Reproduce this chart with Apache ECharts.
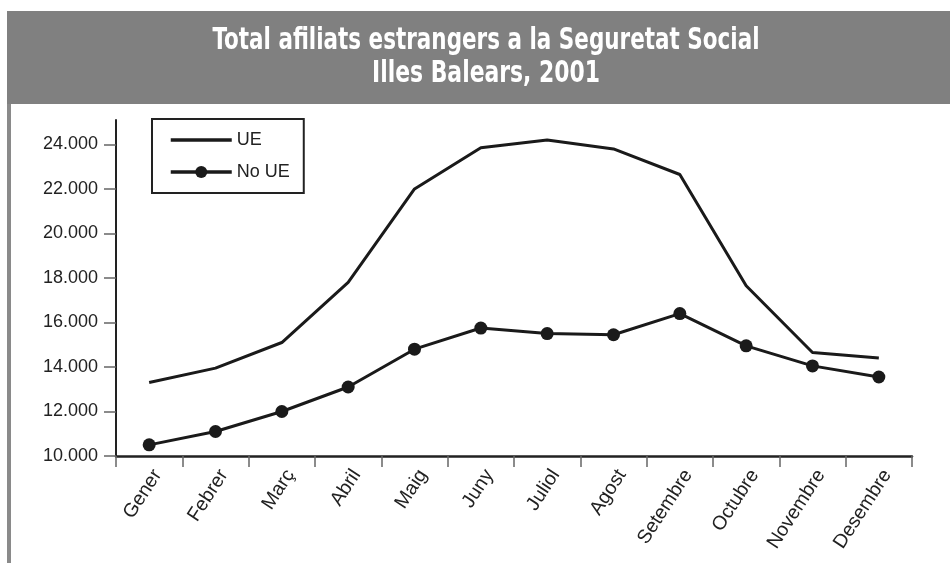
<!DOCTYPE html>
<html>
<head>
<meta charset="utf-8">
<script src="https://cdn.jsdelivr.net/npm/echarts@6/dist/echarts.min.js"></script>
<style>
html,body{margin:0;padding:0;background:#fff;}
#main{width:950px;height:563px;}
</style>
</head>
<body>
<div id="main"></div>
<script>
var titleLines = ['Total afiliats estrangers a la Seguretat Social', 'Illes Balears, 2001'];
var months = ['Gener','Febrer','Març','Abril','Maig','Juny','Juliol','Agost','Setembre','Octubre','Novembre','Desembre'];
var ueValues = [13300, 13950, 15100, 17800, 22000, 23850, 24200, 23800, 22650, 17650, 14650, 14400];
var noUeValues = [10500, 11100, 12000, 13100, 14800, 15750, 15500, 15450, 16400, 14950, 14050, 13550];
var yTicks = [10000, 12000, 14000, 16000, 18000, 20000, 22000, 24000];
var seriesNames = ['UE', 'No UE'];

var titleFont = 'bold 30px "Liberation Sans Narrow", "DejaVu Sans Condensed", "Liberation Sans", sans-serif';
function fitScale(text, font, target) {
  var c = document.createElement('canvas').getContext('2d');
  c.font = font;
  var w = c.measureText(text).width;
  return w > 0 ? target / w : 1;
}
var s1 = fitScale(titleLines[0], titleFont, 547);
var s2 = fitScale(titleLines[1], titleFont, 228);

function fmt(v) {
  return String(v).replace(/\B(?=(\d{3})+(?!\d))/g, '.');
}

var chart = echarts.init(document.getElementById('main'), null, {renderer: 'canvas'});
chart.setOption({
  backgroundColor: '#ffffff',
  animation: false,
  graphic: [
    {type: 'rect', left: 7, top: 11, shape: {width: 943, height: 93}, style: {fill: '#808080'}, silent: true},
    {type: 'rect', left: 7, top: 104, shape: {width: 4, height: 459}, style: {fill: '#8a8a8a'}, silent: true},
    {type: 'text', x: 486, y: 41.5, scaleX: s1, style: {text: titleLines[0], font: titleFont, fill: '#ffffff', textAlign: 'center', textVerticalAlign: 'middle'}, silent: true},
    {type: 'text', x: 486, y: 74.5, scaleX: s2, style: {text: titleLines[1], font: titleFont, fill: '#ffffff', textAlign: 'center', textVerticalAlign: 'middle'}, silent: true}
  ],
  legend: {
    data: [
      {name: seriesNames[0], itemStyle: {opacity: 0}},
      {name: seriesNames[1]}
    ],
    orient: 'vertical',
    left: 152,
    top: 119,
    padding: [12, 14, 12, 17],
    itemWidth: 61,
    itemHeight: 15,
    itemGap: 14,
    borderColor: '#222',
    borderWidth: 2,
    backgroundColor: '#fff',
    lineStyle: {width: 3.5, color: '#1a1a1a'},
    textStyle: {fontFamily: 'Liberation Sans, Arial, sans-serif', fontSize: 18, lineHeight: 17, color: '#222', padding: [0, 0, 0, 0]}
  },
  grid: {left: 116, right: 38, top: 120, bottom: 107, containLabel: false, outerBoundsMode: 'none'},
  xAxis: {
    type: 'category',
    data: months,
    boundaryGap: true,
    axisLine: {show: true, lineStyle: {color: '#222', width: 2.5}},
    axisTick: {show: true, length: 11, interval: 0, lineStyle: {color: '#666', width: 1.5}},
    axisLabel: {interval: 0, rotate: 57, margin: 10, verticalAlign: 'top', fontFamily: 'Liberation Sans, Arial, sans-serif', fontSize: 19.5, color: '#222'},
    splitLine: {show: false}
  },
  yAxis: {
    type: 'value',
    min: 10000,
    max: 25100,
    interval: 2000,
    axisLine: {show: true, lineStyle: {color: '#222', width: 2}},
    axisTick: {show: true, length: 12, customValues: yTicks, lineStyle: {color: '#666', width: 1.5}},
    axisLabel: {customValues: yTicks, margin: 18, fontFamily: 'Liberation Sans, Arial, sans-serif', fontSize: 18, color: '#222', formatter: function (v) { return fmt(v); }},
    splitLine: {show: false}
  },
  series: [
    {
      name: seriesNames[0], type: 'line', data: ueValues,
      symbol: 'none', showSymbol: false,
      lineStyle: {color: '#1a1a1a', width: 3}, itemStyle: {color: '#1a1a1a'}
    },
    {
      name: seriesNames[1], type: 'line', data: noUeValues,
      symbol: 'circle', symbolSize: 13,
      lineStyle: {color: '#1a1a1a', width: 3}, itemStyle: {color: '#1a1a1a'}
    }
  ]
});
</script>
</body>
</html>
